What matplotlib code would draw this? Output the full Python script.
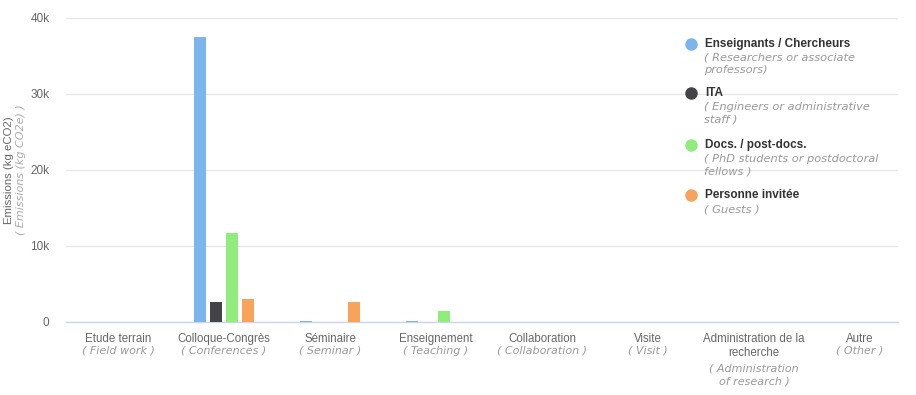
import matplotlib
matplotlib.use("Agg")
import matplotlib.pyplot as plt
import numpy as np

categories = ["Etude terrain", "Colloque-Congrès", "Séminaire", "Enseignement",
              "Collaboration", "Visite", "Administration de la\nrecherche", "Autre"]
categories_en = ["( Field work )", "( Conferences )", "( Seminar )", "( Teaching )",
                 "( Collaboration )", "( Visit )", "( Administration\nof research )", "( Other )"]

series = ["Enseignants / Chercheurs", "ITA", "Docs. / post-docs.", "Personne invitée"]
series_en = ["( Researchers or associate\nprofessors)", "( Engineers or administrative\nstaff )",
             "( PhD students or postdoctoral\nfellows )", "( Guests )"]
colors = ["#7cb5ec", "#434348", "#90ed7d", "#f7a35c"]

researchers = [0, 37500, 150, 150, 0, 0, 0, 0]
ita = [0, 2600, 0, 0, 0, 0, 0, 0]
docs = [0, 11700, 0, 1450, 0, 0, 0, 0]
guests = [0, 3000, 2600, 0, 0, 0, 0, 0]
values = [researchers, ita, docs, guests]

yticks = [0, 10000, 20000, 30000, 40000]
ytick_labels = ["0", "10k", "20k", "30k", "40k"]

main_font = "Liberation Sans"
sub_font = "DejaVu Sans"

fig = plt.figure(figsize=(9.16, 3.95), dpi=100)
W, H = 916, 395
ax = fig.add_axes([66 / W, 1 - 322 / H, (898 - 66) / W, (322 - 18) / H])

# category slot is ~106 px wide, first centre at x=118
slot = 106
x = np.arange(len(categories))
bar_w = 12 / slot
step = 16 / slot
for i, vals in enumerate(values):
    ax.bar(x + (i - 1.5) * step, vals, width=bar_w, color=colors[i], zorder=3)

ax.set_xlim(-(118 - 66) / slot, (898 - 118) / slot)
ax.set_ylim(0, 40000)
ax.set_yticks(yticks)
ax.set_yticklabels(ytick_labels, fontsize=8.5, color="#666666", family=main_font)
ax.tick_params(axis="y", length=0, pad=12)
ax.set_xticks([])
ax.grid(axis="y", color="#e6e6e6", linewidth=1, zorder=0)
for s in ["top", "right", "left"]:
    ax.spines[s].set_visible(False)
ax.spines["bottom"].set_color("#ccd6eb")
ax.spines["bottom"].set_linewidth(1)

tr = ax.get_xaxis_transform()
for i, (fr, en) in enumerate(zip(categories, categories_en)):
    n = fr.count("\n")
    ax.text(i, -0.035, fr, transform=tr, ha="center", va="top", fontsize=8.3,
            color="#666666", family=main_font, linespacing=1.3)
    ax.text(i, -0.035 - 0.043 * (n + 1) - 0.015 * n, en, transform=tr, ha="center",
            va="top", fontsize=8.0, color="#999999", family=sub_font, style="italic",
            linespacing=1.35)

# y axis title
fig.text(9 / W, 1 - 170 / H, "Emissions (kg eCO2)", rotation=90, ha="center",
         va="center", fontsize=8.2, color="#666666", family=main_font)
fig.text(21 / W, 1 - 170 / H, "( Emissions (kg CO2e) )", rotation=90, ha="center",
         va="center", fontsize=8.0, color="#aaaaaa", family=sub_font, style="italic")

# legend
leg_y = [44, 93, 145, 195]
for i in range(len(series)):
    y = leg_y[i]
    fig.lines.append(plt.Line2D([691 / W], [1 - y / H], marker="o", markersize=8,
                                color=colors[i], transform=fig.transFigure))
    fig.text(705 / W, 1 - y / H, series[i], ha="left", va="center", fontsize=8.5,
             color="#333333", family=main_font, fontweight="bold")
    fig.text(704 / W, 1 - (y + 9) / H, series_en[i], ha="left", va="top", fontsize=8.2,
             color="#999999", family=sub_font, style="italic", linespacing=1.3)

fig.savefig("out.png", dpi=100)
